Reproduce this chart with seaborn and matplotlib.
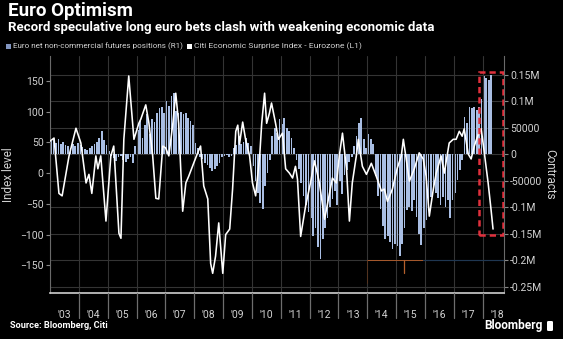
import numpy as np
import matplotlib
matplotlib.use("Agg")
import matplotlib.pyplot as plt
import seaborn as sns
from matplotlib.ticker import FixedLocator, FuncFormatter
from matplotlib.patches import Rectangle, FancyBboxPatch
from matplotlib.lines import Line2D

# Citi Economic Surprise Index - Eurozone (left axis), decimal years
surprise_dates = [
    2003.00, 2003.14, 2003.31, 2003.42, 2003.66, 2003.90, 2004.07, 2004.25, 2004.35, 2004.45,
    2004.59, 2004.66, 2004.76, 2004.94, 2005.11, 2005.21, 2005.39, 2005.46, 2005.56, 2005.73,
    2005.91, 2006.08, 2006.15, 2006.32, 2006.43, 2006.56, 2006.67, 2006.77, 2006.91, 2007.01,
    2007.12, 2007.26, 2007.36, 2007.46, 2007.60, 2007.71, 2007.81, 2007.98, 2008.12, 2008.22,
    2008.33, 2008.47, 2008.57, 2008.64, 2008.74, 2008.85, 2008.99, 2009.09, 2009.23, 2009.33,
    2009.44, 2009.51, 2009.57, 2009.68, 2009.78, 2009.92, 2010.02, 2010.13, 2010.27, 2010.34,
    2010.44, 2010.51, 2010.61, 2010.68, 2010.82, 2010.92, 2011.06, 2011.17, 2011.30, 2011.41,
    2011.51, 2011.58, 2011.69, 2011.86, 2012.03, 2012.17, 2012.34, 2012.52, 2012.69, 2012.79,
    2012.93, 2013.03, 2013.14, 2013.28, 2013.38, 2013.48, 2013.62, 2013.69, 2013.83, 2013.97,
    2014.14, 2014.31, 2014.49, 2014.59, 2014.70, 2014.87, 2015.04, 2015.18, 2015.25, 2015.35,
    2015.46, 2015.63, 2015.80, 2015.94, 2016.04, 2016.15, 2016.29, 2016.39, 2016.56, 2016.67,
    2016.84, 2016.98, 2017.08, 2017.19, 2017.29, 2017.36, 2017.50, 2017.60, 2017.71, 2017.84,
    2017.95, 2018.05, 2018.19, 2018.29, 2018.36,
]
surprise_values = [
    52, 57, -33, -37, 28, 73, 49, -16, -2, -33,
    28, 7, 28, -78, 28, 44, -98, -106, 55, 158,
    55, 81, 88, 111, 81, 28, -41, -42, 44, 41,
    28, 81, 130, 81, -62, -16, -5, 16, 33, 44,
    -21, -42, -147, -163, -135, -81, -163, -100, -91, -26,
    68, 78, 47, 83, 55, 28, -16, -37, 28, 81,
    130, 81, 98, 114, 81, 55, 65, 7, 0, -8,
    11, -10, -103, -54, -16, 20, -16, -75, -33, -8,
    -16, 28, 65, 7, -78, -16, 28, 55, 11, -2,
    16, -5, -29, -26, -46, -26, 8, 28, 55, 23,
    -13, 7, 33, 23, -5, -70, -26, 0, 28, 0,
    49, 55, 55, 68, 60, 72, 31, 23, 44, 62,
    72, 36, -16, -59, -91,
]

# Euro net non-commercial futures positions, monthly from Jan 2003 (right axis)
net_positions = [
    25000, 30000, 22000, 28000, 20000, 24000, 18000, 15000, 12000, 20000, 16000, 22000,          # 2003
    18000, 14000, 10000, 8000, 12000, 16000, 20000, 24000, 30000, 44000, 26000, 18000,           # 2004
    6000, -4000, -8000, -12000, -6000, -3000, -10000, -14000, -9000, -5000, -17000, 15000,       # 2005
    45000, 62000, 30000, 55000, 76000, 38000, 67000, 60000, 78000, 87000, 90000, 78000,          # 2006
    100000, 91000, 110000, 115000, 82000, 78000, 80000, 76000, 78000, 68000, 63000, 55000,       # 2007
    21000, 12000, -5000, -9000, -16000, -20000, -26000, -32000, -28000, -22000, -16000, -6000,   # 2008
    -3000, -2000, -5000, -3000, 12000, 17000, 35000, 19000, 24000, 30000, 22000, 15000,          # 2009
    -22000, -50000, -73000, -92000, -103000, -60000, -35000, -10000, 35000, 49000, 40000, 67000, # 2010
    57000, 68000, 50000, 44000, 30000, 12000, -10000, -28000, -54000, -79000, -95000, -110000,   # 2011
    -120000, -154000, -140000, -175000, -198000, -160000, -140000, -120000, -100000, -85000, -70000, -95000,  # 2012
    -50000, -75000, -40000, -30000, -15000, -5000, 15000, 35000, 59000, 68000, 29000, 12000,     # 2013
    38000, 29000, 19000, -41000, -79000, -103000, -135000, -160000, -154000, -165000, -178000, -170000,  # 2014
    -174000, -193000, -170000, -140000, -105000, -100000, -107000, -86000, -118000, -150000, -171000, -139000,  # 2015
    -124000, -99000, -80000, -61000, -73000, -82000, -96000, -80000, -99000, -86000, -120000, -86000,  # 2016
    -73000, -48000, -30000, -11000, 71000, 59000, 90000, 87000, 90000, 84000, 90000, 104000,     # 2017
    148000, 144000, 140000, 150000,                                                            # 2018
]

years = list(range(2003, 2019))
year_labels = ["'03", "'04", "'05", "'06", "'07", "'08", "'09", "'10", "'11",
               "'12", "'13", "'14", "'15", "'16", "'17", "'18"]

left_ticks = [-150, -100, -50, 0, 50, 100, 150]
right_ticks = [-250000, -200000, -150000, -100000, -50000, 0, 50000, 100000, 150000]

position_dates = 2003 + (np.arange(len(net_positions)) + 0.5) / 12.0

BG = "black"
TXT = "#d2d2d2"
GRID = "#343434"
BAR = "#a9bee3"

sns.set_theme(style="dark")
plt.rcParams["font.family"] = ["Roboto", "DejaVu Sans"]

fig = plt.figure(figsize=(5.63, 3.39), dpi=100, facecolor=BG)
ax = fig.add_axes([50 / 563, 46 / 339, 454 / 563, 237 / 339])
ax2 = ax.twinx()

# bars on the right scale, drawn underneath the index line
ax.set_zorder(2)
ax2.set_zorder(1)
ax.patch.set_visible(False)
ax2.set_facecolor(BG)

sns.barplot(x=position_dates, y=net_positions, ax=ax2, native_scale=True,
            color=BAR, saturation=1, width=0.72, errorbar=None, linewidth=0)
sns.lineplot(x=surprise_dates, y=surprise_values, ax=ax, color="white",
             linewidth=1.15, zorder=5)

ax.set_xlim(2003.0, 2018.74)
ax.set_ylim(-195, 190.5)
ax2.set_ylim(-262000, 185500)

# x axis: year boundaries carry the grid, labels centred in each year
ax.xaxis.set_major_locator(FixedLocator(years + [2019]))
ax.xaxis.set_minor_locator(FixedLocator([y + 0.5 for y in years]))
ax.set_xticklabels([], minor=False)
ax.set_xticklabels(year_labels, minor=True)
ax.tick_params(axis="x", which="major", length=0, labelbottom=False)
ax.tick_params(axis="x", which="minor", bottom=True, length=0, pad=12,
               labelsize=7.5, labelcolor=TXT, labelbottom=True)
ax.grid(axis="x", which="major", color=GRID, linewidth=0.8)
ax.grid(axis="y", visible=False)

# separators between the year labels below the axis
for yr in years[1:]:
    fig.add_artist(Line2D([yr, yr], [0, -0.105], color="#6e6e6e", linewidth=0.9,
                          transform=ax.get_xaxis_transform(), clip_on=False,
                          zorder=10))

ax.set_yticks(left_ticks)
ax.tick_params(axis="y", which="major", length=3, width=0.8, color="#888888",
               labelsize=7.5, labelcolor=TXT, pad=1.5, left=True)

ax2.set_yticks(right_ticks)


def contracts_fmt(v, _):
    if v == 0:
        return "0"
    if abs(v) >= 100000:
        return f"{v / 1e6:g}M"
    return f"{int(v)}"


ax2.yaxis.set_major_formatter(FuncFormatter(contracts_fmt))
ax2.tick_params(axis="y", which="major", length=3, width=0.8, color="#888888",
                labelsize=7.5, labelcolor=TXT, pad=1.5, right=True)
ax2.grid(axis="y", color=GRID, linewidth=0.8)
ax2.grid(axis="x", visible=False)
ax2.set_xlabel("")

for s in ax2.spines.values():
    s.set_visible(False)
ax.spines["top"].set_visible(False)
ax.spines["bottom"].set_color("#cfcfcf")
ax.spines["bottom"].set_linewidth(1.2)
ax.spines["left"].set_color("#6a6a6a")
ax.spines["left"].set_linewidth(0.8)
ax.spines["right"].set_color("#6a6a6a")
ax.spines["right"].set_linewidth(0.8)

ax.set_ylabel("Index level", color=TXT, fontsize=8.5)
ax.yaxis.set_label_coords(-0.077, 0.5)
ax2.set_ylabel("Contracts", color=TXT, fontsize=8.5, rotation=270, va="center")
ax2.yaxis.set_label_coords(1.101, 0.5)

# highlight box around the latest readings
ax.add_patch(Rectangle((2017.88, -152000), 0.83, 307000, transform=ax2.transData,
                       fill=False, edgecolor="#e0303d", linewidth=1.8,
                       linestyle=(0, (2.5, 1.6)), zorder=6))

# range marker along the -0.2M level
ax.add_line(Line2D([2014.0, 2015.94], [-200000, -200000], transform=ax2.transData,
                   color="#a85a2c", linewidth=0.7, zorder=4))
ax.add_line(Line2D([2015.94, 2018.74], [-200000, -200000], transform=ax2.transData,
                   color="#1f3752", linewidth=0.8, zorder=4))
ax.add_line(Line2D([2015.26, 2015.26], [-200000, -224000], transform=ax2.transData,
                   color="#b5602c", linewidth=0.9, zorder=4))
ax.add_line(Line2D([2014.0, 2014.0], [-200000, -244000], transform=ax2.transData,
                   color="#5a331c", linewidth=0.6, zorder=4))

# titles and legend
fig.text(8 / 563, 1 - 1.5 / 339, "Euro Optimism", color="white", fontsize=13.5,
         fontweight="bold", va="top", ha="left")
fig.text(8 / 563, 1 - 21 / 339,
         "Record speculative long euro bets clash with weakening economic data",
         color="white", fontsize=9.5, fontweight="bold", va="top", ha="left")

fig.patches.append(Rectangle((6 / 563, 1 - 49 / 339), 5 / 563, 5 / 339,
                             transform=fig.transFigure, facecolor="#8195c0",
                             edgecolor="none"))
fig.text(13 / 563, 1 - 46.5 / 339, "Euro net non-commercial futures positions (R1)",
         color=TXT, fontsize=5.9, va="center", ha="left")
fig.patches.append(Rectangle((187 / 563, 1 - 49 / 339), 5 / 563, 5 / 339,
                             transform=fig.transFigure, facecolor="white",
                             edgecolor="none"))
fig.text(194 / 563, 1 - 46.5 / 339, "Citi Economic Surprise Index - Eurozone (L1)",
         color=TXT, fontsize=6.1, va="center", ha="left")

fig.text(10 / 563, 1 - 325 / 339, "Source: Bloomberg, Citi", color="white",
         fontsize=6.6, fontweight="bold", va="center", ha="left")
fig.text(543 / 563, 1 - 326 / 339, "Bloomberg", color="white", fontsize=8.6,
         fontweight="bold", va="center", ha="right")
fig.patches.append(FancyBboxPatch((547 / 563, 1 - 331 / 339), 6 / 563, 10 / 339,
                                  boxstyle="round,pad=0,rounding_size=0.003",
                                  transform=fig.transFigure, facecolor="white",
                                  edgecolor="none"))

fig.savefig("out.png", dpi=100, facecolor=BG)
